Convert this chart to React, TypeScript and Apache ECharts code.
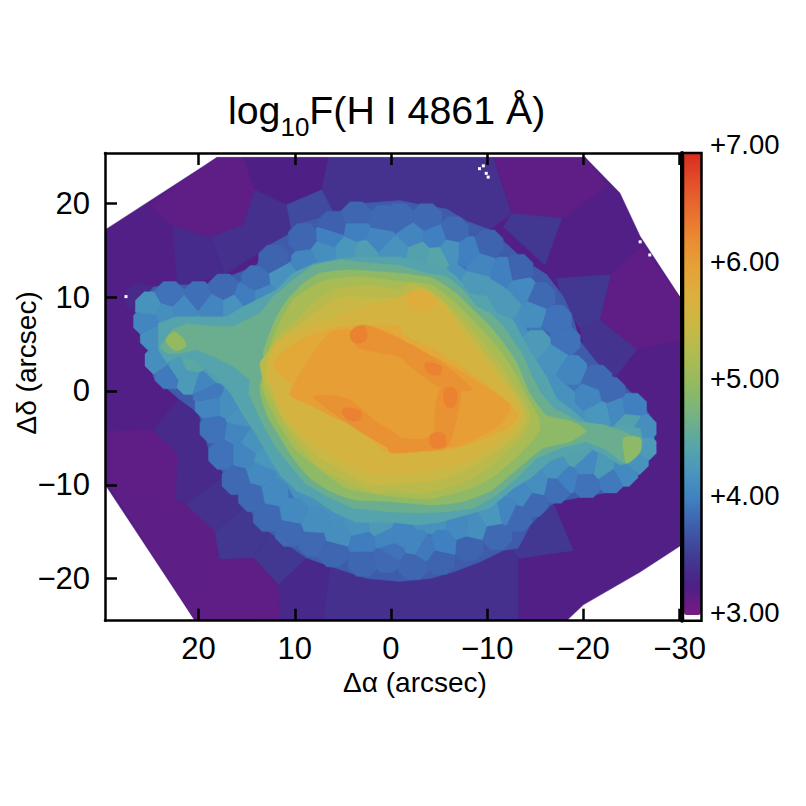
import React, { useEffect, useRef } from "react";
import * as echarts from "echarts";

const FONT = "Liberation Sans";
const xTicks = [20, 10, 0, -10, -20, -30];
const yTicks = [20, 10, 0, -10, -20];
const barLabels = [3, 4, 5, 6, 7];
const scaleColors = ["#7a1a83","#4c2086","#413a93","#3e5cab","#4080c0","#4a97bd","#5aa8a4","#78b37f","#93ba60","#b0bb50","#c9b845","#dcb03c","#e6a236","#ea8c32","#ea6d2e","#e34e28","#d92b20"];

type P = number[][];
const field: P = [[29.7,17.2],[18.1,24.9],[-20.2,24.9],[-23.8,21.1],[-25.9,16.5],[-30.25,9.7],[-30.25,-16.4],[-25.9,-19.3],[-20,-22.8],[-18.3,-24.45],[20.4,-24.45],[29.7,-10]];
const binsOuter: [number, P][] = [
  [3.15,[[25.05,19.85],[18.1,24.9],[15.35,24.9],[14.15,21.45],[15.35,17.7],[18.8,16.4],[22.7,17.6]]],
  [3.24,[[15.35,24.9],[6.5,24.9],[7.2,21.45],[10.85,19.85],[14.15,21.45]]],
  [3.42,[[6.5,24.9],[-10.65,24.9],[-12.55,18.95],[-10.3,17.2],[0,18],[5.95,18.95],[7.2,21.45]]],
  [3.4,[[14.15,21.45],[10.85,19.85],[10.3,16.8],[13.3,15],[17.25,12.4],[18.8,16.4],[15.35,17.7]]],
  [3.62,[[10.85,19.85],[7.2,21.45],[5.95,18.95],[9.1,18],[10.3,16.8]]],
  [3.36,[[22.7,17.6],[18.8,16.4],[17.25,12.4],[22.2,11.2]]],
  [3.35,[[27.65,10.6],[26.45,11.5],[24.7,11.05],[26.6,8.65],[27.5,9]]],
  [3.15,[[29.6,-4.3],[24.7,-4.15],[22.2,-6.65],[22.35,-11.8],[29.55,-9.7]]],
  [3.35,[[22.1,-0.8],[20,-2.4],[19.15,-4.7],[17.25,-9],[20.9,-11.8],[22.35,-11.8],[22.2,-6.65],[24.7,-4.15]]],
  [3.16,[[22.35,-11.8],[21.4,-12],[18.1,-15],[17.8,-18],[20.4,-24.45],[29.55,-9.7]]],
  [3.42,[[20.9,-11.8],[17.25,-9],[15,-12.15],[18.3,-15],[21.4,-12]]],
  [3.47,[[18.3,-15],[15,-12.15],[12.6,-15],[14.3,-17.8],[17.8,-18]]],
  [3.47,[[14.3,-17.8],[12.6,-15],[8.8,-17.85],[11.7,-20.7]]],
  [3.15,[[17.8,-18],[14.3,-17.8],[11.7,-20.7],[11.55,-24.45],[20.4,-24.45]]],
  [3.33,[[11.7,-20.7],[8.8,-17.85],[6.35,-18.7],[7,-24.45],[11.55,-24.45]]],
  [3.4,[[6.35,-18.7],[0,-19],[-9.3,-17],[-13.25,-16.8],[-13.25,-24.45],[7,-24.45]]],
  [3.47,[[-12.55,-16.8],[-13.4,-17.85],[-18.95,-17],[-16.9,-12],[-14.8,-13.9]]],
  [3.15,[[-10.65,24.9],[-20.2,24.9],[-22.4,21.8],[-17.75,18.4],[-12.55,18.95]]],
  [3.48,[[-12.55,18.95],[-17.75,18.4],[-16,13.4],[-11.7,17.5]]],
  [3.15,[[-22.8,12.4],[-26.05,15.4],[-30.25,9.7],[-30.25,5.45],[-25.55,4.4],[-21.7,7.6]]],
  [3.48,[[-17.2,12],[-22.8,12.4],[-21.7,7.6],[-19.65,6.7],[-17.9,9.35]]],
  [3.43,[[-19.65,6.7],[-21.7,7.6],[-25.55,4.4],[-23.2,1.35],[-20.2,3.5]]],
];
const level375: P = [[26.6,8.6],[24.7,11.1],[22.3,11.3],[18.5,11.4],[16.4,12.4],[14,13.4],[12.9,15.4],[10.5,16.8],[9.1,18],[6,18.9],[2.9,20],[-0.9,20.3],[-3.4,19.8],[-5.8,19.4],[-7.9,18.1],[-10.3,17.2],[-12,15.7],[-13.8,14],[-16.2,12.4],[-17.9,10.1],[-19,7.6],[-19.6,5.4],[-21.4,3],[-23.2,1.4],[-24.5,0.3],[-26.2,-1.5],[-27.4,-3.3],[-27.4,-5.4],[-26.8,-7],[-25.7,-8.6],[-24,-10.2],[-22.1,-10.9],[-17.2,-11.8],[-16.2,-12.5],[-14.5,-14.3],[-13.2,-16.8],[-11.7,-17],[-9.3,-18.2],[-6.5,-19.3],[-4.1,-20],[-0.9,-20.3],[2.5,-20],[6.3,-18.7],[8.8,-17.8],[13.3,-14.6],[15.4,-11.8],[17.3,-9],[19,-6.1],[20,-2.4],[22.1,-0.8],[23.7,0.6],[24.7,1.5],[25.7,6.5]];
const level395: P = [[26.1,8.5],[24.4,9.2],[22,9],[19.9,9],[18.3,9.9],[16.4,9.7],[15.5,10.95],[13.6,10.8],[11.9,12.2],[10,14.3],[7.4,17],[5.3,16.5],[3.2,18.2],[1.2,17.2],[-0.9,18.1],[-2.5,17.5],[-7.2,15.4],[-10.6,14.1],[-12,14],[-12.7,11.1],[-14.8,11.7],[-16.2,9],[-15.5,7.2],[-17.2,4.7],[-19.3,3.7],[-21.7,1.2],[-24.2,-1.1],[-26.2,-2.2],[-27.3,-3.4],[-27.3,-5.4],[-25.5,-7.5],[-23.8,-8.3],[-22.1,-8.6],[-19.3,-8.8],[-17.6,-8.2],[-16,-9.7],[-13.8,-11.1],[-11,-14],[-9.3,-14.7],[-8.2,-15.7],[-6.5,-16.8],[-2.3,-15.4],[-0.9,-17.1],[0.1,-17.9],[2.5,-17],[4.3,-17.3],[7,-14.6],[9.5,-15],[11.5,-12.9],[13.3,-10.7],[14.7,-10],[17.1,-6.8],[17.4,-4.7],[18,-2.7],[19.5,-1.5],[19.2,-0.25],[23.8,1],[24.5,3.3],[25.6,6.3]];
const level42: P = [[25,8],[23.1,8],[20.9,8.3],[18.1,8.3],[15,9.5],[12.9,10.4],[10.2,12.9],[8.4,14.7],[6,15],[3.9,16.1],[1.1,15.75],[-0.9,16.3],[-1.3,14.7],[-3.4,15.8],[-5.4,14.7],[-6.8,13.6],[-8.2,12.6],[-10.3,11.5],[-11.7,10],[-13.6,8.3],[-14.1,6.5],[-15.5,5.3],[-17.2,3.3],[-17.6,1.2],[-20.7,-1.5],[-21.7,-3.3],[-24.2,-2.9],[-26.2,-2.4],[-27.3,-3.6],[-27.3,-5.4],[-26.8,-6.8],[-25.7,-7.4],[-24.5,-9],[-23.5,-8.6],[-21.4,-7.9],[-19,-7.4],[-17.6,-8.1],[-15.5,-9.3],[-13.8,-10.4],[-11.7,-12.2],[-10,-13.6],[-7.9,-13.75],[-5.8,-15],[-3.4,-15.4],[-1.6,-16.1],[0.1,-15],[2.9,-15.4],[5.3,-14.6],[7.4,-12.9],[9.5,-12.5],[10.85,-10],[12.6,-9.3],[13.6,-7.2],[15,-5.4],[15.9,-3.3],[17.8,-1.85],[19.5,-0.4],[19.9,1.2],[24.4,3],[25,4.7],[25.2,6.9]];
const level45: P = [[24.2,7.2],[22.3,7.9],[19.5,7.9],[17.1,7.9],[15.35,9],[14,9.7],[11.9,10.8],[10.2,12.55],[8,13.6],[5.3,14.1],[2.5,14.3],[-0.9,14.3],[-3.4,13.6],[-5.4,13.3],[-6.8,12.2],[-8.2,10.4],[-9.95,10.1],[-11,8.3],[-12.7,7.6],[-13.8,5.4],[-14.8,3.7],[-16.2,1.5],[-17.2,-0.8],[-18.6,-1.85],[-20.3,-3.3],[-22.4,-4],[-24.2,-3.6],[-25.9,-4],[-26.2,-5.4],[-25.7,-6.5],[-24.8,-7.7],[-23.8,-7.9],[-22.1,-6.8],[-20.7,-6.1],[-18.6,-6.65],[-16.5,-7.5],[-14.5,-9.3],[-12.7,-10.4],[-10.3,-12.5],[-7.9,-13.2],[-5.1,-14],[-2.7,-14.3],[0.1,-14],[3.6,-14],[6,-12.9],[8.1,-11.4],[9.8,-10.7],[11.5,-9],[12.6,-7.2],[14,-4.7],[15.35,-2.6],[16.7,-0.25],[18.1,1.5],[20.55,3.3],[22,3.7],[23.3,3],[24.2,4.4],[24.2,5.8]];
const level475: P = [[24,4.7],[22.8,6.5],[21.2,7.2],[18.8,6.9],[16.4,6.9],[13.6,8.3],[12.2,10.1],[10.2,11.8],[8.1,13.4],[5.3,14],[1.8,13.6],[-0.9,13.4],[-3.7,12.55],[-5.8,12.2],[-7.5,10.8],[-8.9,9],[-10.3,8.3],[-11.7,6.9],[-12.7,5.4],[-13.8,3.7],[-14.5,1.9],[-15.5,-0.1],[-16.9,-1.85],[-19.65,-3.3],[-22.1,-3.6],[-24.2,-4.3],[-25.9,-5.2],[-25.5,-6.5],[-24.2,-7.7],[-22.4,-6.3],[-20.3,-5.4],[-17.6,-6.1],[-15.1,-7.2],[-13.4,-9],[-11,-11.1],[-8.6,-12.5],[-5.8,-12.9],[-3,-13],[0.1,-12.9],[3.9,-12.5],[6.3,-11.4],[8.8,-10],[10.5,-7.9],[11.9,-6.1],[13.3,-3.6],[14.8,-0.25],[14.65,1.2],[16.4,2.6],[18.5,3.7],[20.2,4.4],[22,4],[23.3,4]];
const level50: P = [[12.9,2.95],[13.3,4],[11.9,7.9],[10.8,9.7],[9.1,11.5],[7.4,12.55],[4.3,12.9],[-0.9,12.55],[-4.4,12],[-6.8,10.4],[-8.6,8.6],[-10.3,6.9],[-12,4.7],[-13.1,2.95],[-13.8,1.2],[-14.5,-0.4],[-16.2,-2.6],[-19,-3.3],[-20.3,-4.3],[-18.6,-5.4],[-15.8,-6.1],[-14.1,-7.5],[-12,-9.3],[-10.3,-10.7],[-7.5,-11.8],[-4.4,-12.15],[0.1,-11.8],[3.9,-11.6],[6.3,-10.7],[8.4,-9.3],[10.15,-7.2],[11.5,-5],[12.9,-2.6],[13.6,-0.25],[13.6,0.8],[13.1,1.9]];
const lobeLeft: P = [[23.4,5.4],[22.6,6.3],[21.6,5.6],[21.3,4.8],[22.4,4.3]];
const lobeRight: P = [[-24.2,-5],[-25.9,-5],[-25.9,-6.5],[-24.5,-7.7],[-24.2,-6.5]];
const level518: P = [[13,3.5],[11.7,7],[10.3,9.6],[8.6,10.9],[6.9,11.8],[3.4,12.2],[-1,11.7],[-4.2,11.3],[-6.4,9.7],[-8.4,7.7],[-10.1,5.8],[-11.7,3.9],[-12.8,2],[-14.2,-0.7],[-15.3,-2.7],[-15.5,-4],[-14.6,-5.4],[-12.9,-7.2],[-10.8,-9],[-8.3,-10.4],[-4,-11.5],[0.1,-11.2],[4.6,-10.4],[7.1,-8.6],[9.9,-6.3],[11.4,-4],[12.7,-1.5],[13.4,0.5]];
const level535: P = [[12.9,4],[11.5,6.15],[9.8,7.6],[8.1,9.35],[6,10.8],[2.5,11.3],[-0.9,10.8],[-2,11.5],[-4,10.8],[-6.1,9],[-8.2,6.9],[-9.95,4.7],[-11.3,2.95],[-12.4,1.2],[-13.8,-1.1],[-14.5,-2.6],[-13.8,-4.7],[-11.7,-6.8],[-9.6,-8.6],[-6.8,-10],[-3.4,-10.9],[0.1,-10.7],[1.5,-10.9],[5.3,-9.3],[7.7,-7.9],[9.8,-5.4],[11.2,-3.3],[12.6,-0.4],[13.3,1.2],[13.6,3]];
const level55: P = [[12.6,4.2],[11,6],[9.2,7.3],[7,9],[5,10],[2.5,10],[-0.9,10],[-3,11],[-5.3,9.6],[-7.2,7.3],[-9,5],[-10.6,2.9],[-12,1],[-13.4,-1.1],[-14,-2.8],[-13.2,-4.5],[-11,-6.4],[-8.2,-8.2],[-5,-9.5],[-1,-9.9],[2,-10],[5,-8.5],[7.7,-6.9],[9.8,-4.7],[11.4,-2.6],[12.4,0],[13,1.5]];
const level565: P = [[12.4,4.4],[10.85,5.8],[8.8,6.9],[6.3,7.6],[4,8.6],[1,9.4],[-0.9,10],[-3,10.8],[-5.1,9.7],[-6.5,7.6],[-8.2,5.4],[-9.95,2.95],[-11.7,0.8],[-13.1,-1.1],[-13.6,-2.9],[-12.7,-4.3],[-10.3,-6.1],[-6.8,-7.9],[-3.4,-8.6],[0.1,-9],[1.5,-9],[5,-7.5],[7.7,-5.8],[9.8,-4],[11.5,-1.85],[12.2,0.3],[12.75,1.5]];
const level59: P = [[11.5,4],[8.8,5.8],[6,6.7],[3.6,7],[-0.9,6.9],[-1.3,6],[-4,4.7],[-6.8,2.95],[-9.25,1.2],[-11.7,-0.8],[-13.2,-2.6],[-12,-4],[-8.9,-5.4],[-5.8,-6.3],[-2,-6.5],[0.1,-6.65],[0.9,-6.3],[3.2,-4],[6.7,-1.85],[8.8,-0.07],[10.85,1.2],[12.2,2.6]];
const level61: P = [[10.5,-0.4],[8.9,2.8],[6.3,6.3],[3.7,6.5],[-0.9,4.9],[-5.1,3.3],[-8.7,1.2],[-12.4,-1.5],[-11.3,-3.6],[-7.2,-5.8],[-3,-6],[0.6,-4.7],[5.3,-3.1],[8.4,-1.5]];
const bump: P = [[-1.6,10.3],[-3,10.6],[-4.6,9.8],[-4.2,8.8],[-2.4,8.6]];
const ridges: P[] = [
  [[3.9,6.7],[2.5,7],[-0.9,5.6],[-2,5],[-4.4,3.6],[-6.8,1.8],[-8.4,0.1],[-5.1,0.4],[-2,2.6],[-0.9,3.6],[1.8,4.2],[3.6,4.8]],
  [[-5.1,0.2],[-7.2,0.2],[-6.8,-3],[-5.8,-6],[-4.6,-4.7]],
  [[0.1,-5.2],[-3.4,-5.1],[-5.1,-4.5],[-5.8,-6],[-3.4,-6.4],[0.1,-6.5]],
  [[8,-0.6],[4.6,-0.8],[1.5,-3.3],[-0.9,-4.9],[-0.9,-6.5],[1.8,-5.2],[4.3,-3.6],[6.35,-2.1]],
];
const spots: P[] = [
  [[4.2,6.3],[2.8,6.9],[2.6,5.4],[3.9,5.2]],
  [[-3.6,3],[-5.2,2.6],[-5,1.7],[-3.8,2]],
  [[5,-1.9],[3.2,-2.1],[3.3,-3.1],[4.6,-3]],
  [[-4.2,-4.6],[-5.5,-4.6],[-5.6,-5.9],[-4.2,-5.9]],
  [[-5.6,0.2],[-6.7,0.2],[-6.7,-1.6],[-5.7,-1.6]],
];

// Voronoi bins of the blue belt: x, y, log flux
const beltBins: number[][] = [
  [25.2,7.4,4.05],[25,9,4.2],[23.5,8.3,4.15],[21.6,8.8,4.1],[23,10.1,3.9],[20,10.1,3.88],[17.4,10.9,3.85],[18.5,9,4.05],[16.4,9,4.2],[15,10.1,3.98],[13.3,10.1,4.1],[14,11.8,3.88],[11.2,12.2,4.2],[8.8,13.8,4.05],[12.2,14,3.8],[9.1,16.3,3.82],[6.35,16.5,4.0],[3.6,17.2,4.0],[1.15,16.3,4.05],[4.6,15,4.25],[2.9,14.7,4.35],[7,14.7,4.15],[-0.25,15,4.2],[6,17.6,3.78],[3.6,18.6,3.82],[0.8,18.2,3.85],
  [24.5,5.8,4.15],[24,3.3,4.15],[23,1.8,3.95],[22.3,2.25,4.3],[20.55,3,4.5],[20.9,1.2,4.3],[19.5,0.8,4.05],[18.1,2.25,4.35],
  [-0.9,18.4,3.85],[-3.7,18.4,3.85],[-6.5,17,3.85],[-2.15,16.5,4.05],[-4.6,16.3,4.0],[-10.1,15.6,3.8],[-8,14.9,4.0],[-9.4,13.4,4.05],[-11.7,12.7,4.0],[-13.2,13,3.8],[-13.6,10.8,4.1],[-15.5,10,3.85],[-14.8,8.3,4.15],[-17.2,7.6,3.9],[-18.1,5.3,3.9],[-15.1,4.9,4.3],[-16.9,3.5,4.2],[-18.8,2.25,4.05],[-21.4,1.2,3.85],[-8.9,11.5,4.3],[-10.3,10.4,4.3],[-12,9.35,4.3],[-6.1,15,4.2],[-0.6,15,4.2],[-2.85,14.7,4.4],[-4.75,14.3,4.45],
  [-20.7,-0.6,4.05],[-22.8,-0.1,3.85],[-21.7,-2.4,4.25],[-23.5,-2,4.1],[-25,-1.8,4.0],[-24.85,-3.3,4.4],[-26,-4,4.15],[-26,-6,4.3],[-25.2,-7.35,4.2],[-24.1,-8.6,4.1],[-22.8,-9.3,3.95],[-20.35,-9.8,3.9],[-22.1,-8.25,4.3],[-20.35,-7.9,4.1],[-18.25,-9.3,4.0],[-17.05,-10.4,3.88],[-14.8,-11.8,3.85],[-13.1,-13.4,3.85],[-11,-15.35,3.85],[-8.05,-16.6,3.8],[-5.45,-16.4,4.0],[-2.7,-16.4,4.05],[-2.3,-18.55,3.82],[-5.1,-18,3.8],[0,-17.1,3.9],[-0.95,-15.35,4.05],[-3.4,-16.8,3.95],[-7.35,-14.5,4.1],[-8.55,-14.6,4.15],[-10.65,-13.2,4.25],[-15.15,-10,4.15],[-13.75,-11.1,4.1],[-12,-12.9,4.05],[-17.2,-8.25,4.2],[-19.3,-6.8,4.4],
  [18.3,-4,3.9],[16,-4.3,4.05],[17.4,-6.8,3.9],[15.35,-6.8,4.05],[16,-9.5,3.85],[13.6,-8.8,4.1],[14.3,-11.3,3.85],[12.25,-10.9,4.1],[12.75,-13.4,3.85],[10.15,-13,4.1],[10.5,-15,3.85],[8.05,-16.1,3.85],[7.9,-14,4.15],[5.5,-15.35,4.15],[6,-17.2,3.82],[2.9,-18.2,3.82],[2.9,-16.1,3.98],[0.45,-17.8,3.85],[0.45,-15.7,4.05],[3.4,-14.3,4.2],[1.15,-14.3,4.3],[12.9,-7.2,4.25],[14.3,-5.4,4.2],[15.7,-2.9,4.2],[16.9,-1.5,4.15],[18.8,-1.5,4.05],[19,-0.25,3.95],
];
const missingSpaxels: number[][] = [[-9.9,23.2],[-9.2,23.7],[-9.6,24],[-10.1,22.8],[27.55,10.06],[-25.9,15.9],[-26.9,14.5]];

// A bin's cell: the part of an octagon round its centre that is nearer to it than to any other bin.
const binCell = (site: number[], all: number[][]): P => {
  const R = 1.7;
  let poly: P = [];
  for (let k = 0; k < 8; k++) {
    const a = (Math.PI / 4) * (k + 0.5);
    poly.push([site[0] + R * Math.cos(a), site[1] + R * Math.sin(a)]);
  }
  for (const o of all) {
    if (o === site) continue;
    const dx = o[0] - site[0], dy = o[1] - site[1];
    if (dx * dx + dy * dy > 16 * R * R) continue;
    const mx = (o[0] + site[0]) / 2, my = (o[1] + site[1]) / 2;
    const side = (p: number[]) => (p[0] - mx) * dx + (p[1] - my) * dy;
    const next: P = [];
    poly.forEach((p, i) => {
      const q = poly[(i + 1) % poly.length];
      const sp = side(p), sq = side(q);
      if (sp <= 0) next.push(p);
      if (sp * sq < 0) {
        const t = sp / (sp - sq);
        next.push([p[0] + t * (q[0] - p[0]), p[1] + t * (q[1] - p[1])]);
      }
    });
    poly = next;
    if (!poly.length) break;
  }
  return poly;
};

type Region = { v: number; pts: P; smooth?: number };
const lowRegions: Region[] = [
  { v: 3.22, pts: field },
  ...binsOuter.map(([v, pts]) => ({ v, pts })),
  { v: 3.75, pts: level375 },
  { v: 3.92, pts: level395 },
  { v: 4.18, pts: level42 },
  ...beltBins.map((b) => ({ v: b[2], pts: binCell(b, beltBins) })),
  { v: 4.42, pts: level45 },
  { v: 4.64, pts: level475 },
  { v: 4.95, pts: level50, smooth: 0.2 },
  { v: 5.0, pts: lobeLeft, smooth: 0.3 },
  { v: 4.95, pts: lobeRight, smooth: 0.3 },
  { v: 5.18, pts: level518, smooth: 0.2 },
  { v: 5.35, pts: level535, smooth: 0.2 },
  { v: 5.5, pts: level55, smooth: 0.2 },
  { v: 5.65, pts: level565, smooth: 0.2 },
  { v: 5.8, pts: bump, smooth: 0.4 },
  { v: 5.9, pts: level59, smooth: 0.2 },
  { v: 6.05, pts: level61, smooth: 0.2 },
  ...ridges.map((pts) => ({ v: 6.18, pts, smooth: 0.3 })),
  ...spots.map((pts) => ({ v: 6.33, pts, smooth: 0.4 })),
];

const minusText = (v: number) => String(v).replace("-", "\u2212");

export default function App() {
  const ref = useRef<HTMLDivElement>(null);
  useEffect(() => {
    document.body.style.margin = "0";
    const chart = echarts.init(ref.current!, undefined, { renderer: "svg" });
    const tickStyle = { color: "#000", width: 2.5 };
    const xRange = { min: -30.25, max: 29.73, inverse: true, type: "value" as const, splitLine: { show: false } };
    const yRange = { min: -24.49, max: 25.37, type: "value" as const, splitLine: { show: false } };
    chart.setOption({
      animation: false,
      backgroundColor: "#fff",
      title: {
        left: 228, top: 88, padding: 0,
        text: "{a|log}{b|10}{a|F(H I 4861 Å)}",
        textStyle: {
          fontWeight: "normal",
          rich: {
            a: { fontFamily: FONT, fontSize: 39.3, fontWeight: "normal", color: "#000", lineHeight: 44 },
            b: { fontFamily: FONT, fontSize: 26, fontWeight: "normal", color: "#000", verticalAlign: "bottom", lineHeight: 25, padding: [0, 0, -8, 0] },
          },
        },
      },
      grid: [
        { left: 105, width: 577, top: 153, height: 467.7, containLabel: false, outerBoundsMode: "none" },
        { left: 702, width: 1, top: 144, height: 468, outerBoundsMode: "none" },
      ],
      xAxis: [
        { ...xRange, gridIndex: 0, position: "bottom", z: 5,
          axisLine: { show: true, onZero: false, lineStyle: tickStyle },
          axisTick: { show: true, inside: true, length: 12, lineStyle: tickStyle, customValues: xTicks },
          axisLabel: { show: true, customValues: xTicks, formatter: minusText, fontFamily: FONT, fontSize: 31, color: "#000", margin: 12 },
          name: "Δα (arcsec)", nameLocation: "middle", nameGap: 47,
          nameTextStyle: { fontFamily: FONT, fontSize: 28, color: "#000", padding: [0, 0, 0, 43] } },
        { ...xRange, gridIndex: 0, position: "top", z: 5,
          axisLine: { show: true, onZero: false, lineStyle: tickStyle },
          axisTick: { show: true, inside: true, length: 12, lineStyle: tickStyle, customValues: xTicks },
          axisLabel: { show: false } },
        { type: "value", gridIndex: 1, show: false, min: 0, max: 1 },
      ],
      yAxis: [
        { ...yRange, gridIndex: 0, position: "left", z: 5,
          axisLine: { show: true, onZero: false, lineStyle: tickStyle },
          axisTick: { show: true, inside: true, length: 12, lineStyle: tickStyle, customValues: yTicks },
          axisLabel: { show: true, customValues: yTicks, formatter: minusText, fontFamily: FONT, fontSize: 31, color: "#000", margin: 15 },
          name: "Δδ (arcsec)", nameLocation: "middle", nameGap: 65, nameMoveOverlap: false,
          nameTextStyle: { fontFamily: FONT, fontSize: 28, color: "#000", padding: [0, 0, 0, 48] } },
        { ...yRange, gridIndex: 0, position: "right", z: 5,
          axisLine: { show: true, onZero: false, lineStyle: { color: "#000", width: 4 } },
          axisTick: { show: false }, axisLabel: { show: false } },
        { type: "value", gridIndex: 1, position: "right", min: 3, max: 7, splitLine: { show: false },
          axisLine: { show: false }, axisTick: { show: false },
          axisLabel: { show: true, customValues: barLabels, margin: 7, fontFamily: FONT, fontSize: 27.5, color: "#000",
            formatter: (v: number) => "+" + v.toFixed(2) } },
      ],
      visualMap: {
        type: "continuous", min: 3, max: 7, dimension: 2, seriesIndex: 0,
        left: 684, top: 153, itemWidth: 17, itemHeight: 462, padding: 0, calculable: false, hoverLink: false,
        inRange: { color: scaleColors },
      },
      graphic: [
        { type: "rect", z: 100, shape: { x: 683, y: 153, width: 18.5, height: 467.7 },
          style: { fill: "none", stroke: "#000", lineWidth: 2.5 } },
      ],
      series: [
        {
          type: "custom", coordinateSystem: "cartesian2d", xAxisIndex: 0, yAxisIndex: 0, z: 2, silent: true,
          encode: { x: 0, y: 1 },
          data: lowRegions.map((r, i) => [0, 0, r.v, i]),
          renderItem: (_: any, api: any) => {
            const r = lowRegions[api.value(3)];
            const color = api.visual("color");
            return {
              type: "polygon",
              shape: { points: r.pts.map((p) => api.coord(p)), smooth: r.smooth || 0 },
              style: { fill: color, stroke: color, lineWidth: 0.4 },
            };
          },
        },
        { type: "scatter", xAxisIndex: 0, yAxisIndex: 0, z: 4, silent: true, symbol: "rect", symbolSize: 3,
          itemStyle: { color: "#fff", opacity: 1 }, data: missingSpaxels },
      ],
    });
    return () => chart.dispose();
  }, []);
  return <div ref={ref} style={{ position: "fixed", left: 0, top: 0, width: 806, height: 806 }} />;
}
